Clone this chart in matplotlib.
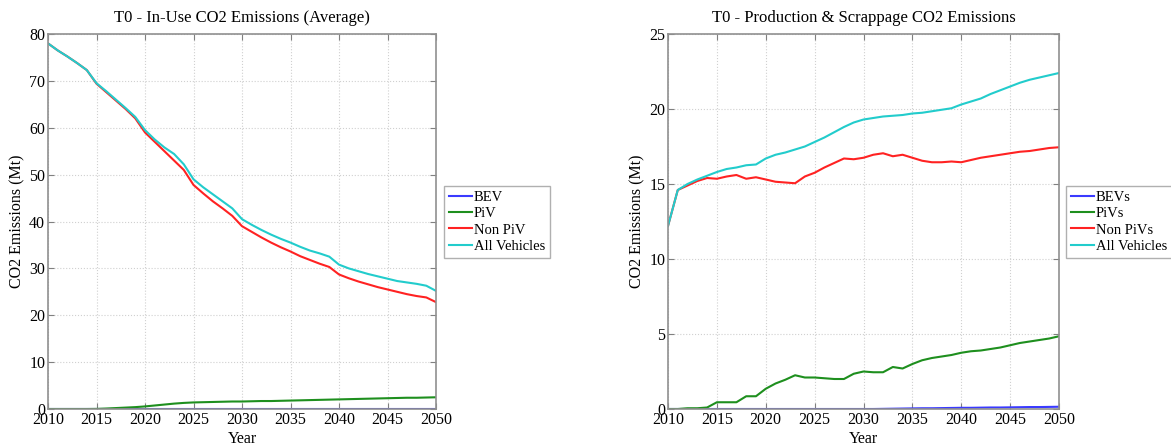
import numpy as np
import matplotlib
matplotlib.use("Agg")
import matplotlib.pyplot as plt

years = np.arange(2010, 2051)

# In-use emissions (Mt)
use_bev = [0.0] * 41
use_piv = [0.0, 0.0, 0.0, 0.0, 0.0, 0.02, 0.1, 0.2, 0.3, 0.4, 0.55,
           0.75, 0.95, 1.15, 1.3, 1.4, 1.45, 1.5, 1.55, 1.6, 1.6,
           1.65, 1.7, 1.7, 1.75, 1.8, 1.85, 1.9, 1.95, 2.0, 2.05,
           2.1, 2.15, 2.2, 2.25, 2.3, 2.35, 2.4, 2.4, 2.45, 2.5]
use_nonpiv = [78.0, 76.5, 75.2, 73.8, 72.3, 69.4, 67.6, 65.8, 64.0, 62.0, 59.0,
              57.0, 55.0, 53.0, 51.0, 47.8, 46.0, 44.3, 42.8, 41.2, 39.0,
              37.8, 36.6, 35.5, 34.5, 33.6, 32.6, 31.8, 31.0, 30.3, 28.7,
              27.9, 27.2, 26.6, 26.0, 25.5, 25.0, 24.5, 24.1, 23.8, 22.8]
use_all = [78.0, 76.5, 75.2, 73.8, 72.3, 69.5, 67.8, 66.0, 64.2, 62.3, 59.5,
           57.5, 55.8, 54.4, 52.2, 49.0, 47.3, 45.8, 44.3, 42.8, 40.5,
           39.3, 38.2, 37.2, 36.3, 35.5, 34.6, 33.8, 33.2, 32.5, 30.8,
           30.0, 29.4, 28.8, 28.3, 27.8, 27.3, 27.0, 26.7, 26.3, 25.2]

# Production & scrappage emissions (Mt)
prod_bev = [0.0] * 20 + [0.0, 0.0, 0.01, 0.02, 0.03, 0.04, 0.05, 0.05, 0.06, 0.07,
                         0.08, 0.08, 0.09, 0.1, 0.1, 0.11, 0.12, 0.13, 0.13, 0.14, 0.15]
prod_piv = [0.0, 0.0, 0.05, 0.05, 0.1, 0.45, 0.45, 0.45, 0.85, 0.85, 1.35,
            1.7, 1.95, 2.25, 2.1, 2.1, 2.05, 2.0, 2.0, 2.35, 2.5,
            2.45, 2.45, 2.8, 2.7, 3.0, 3.25, 3.4, 3.5, 3.6, 3.75,
            3.85, 3.9, 4.0, 4.1, 4.25, 4.4, 4.5, 4.6, 4.7, 4.85]
prod_nonpiv = [12.2, 14.6, 14.9, 15.2, 15.4, 15.35, 15.5, 15.6, 15.35, 15.45, 15.3,
               15.15, 15.1, 15.05, 15.5, 15.75, 16.1, 16.4, 16.7, 16.65, 16.75,
               16.95, 17.05, 16.85, 16.95, 16.75, 16.55, 16.45, 16.45, 16.5, 16.45,
               16.6, 16.75, 16.85, 16.95, 17.05, 17.15, 17.2, 17.3, 17.4, 17.45]
prod_all = [12.2, 14.6, 15.0, 15.3, 15.55, 15.8, 16.0, 16.1, 16.25, 16.3, 16.7,
            16.95, 17.1, 17.3, 17.5, 17.8, 18.1, 18.45, 18.8, 19.1, 19.3,
            19.4, 19.5, 19.55, 19.6, 19.7, 19.75, 19.85, 19.95, 20.05, 20.3,
            20.5, 20.7, 21.0, 21.25, 21.5, 21.75, 21.95, 22.1, 22.25, 22.4]

colors = ["#3a3aff", "#1e8f1e", "#ff2222", "#22cccc"]

plt.rcParams['font.family'] = ['Liberation Serif', 'DejaVu Serif']

fig = plt.figure(figsize=(11.71, 4.46), dpi=100)
W, H = 1171, 446


def style_axes(ax, ymax, ystep):
    ax.set_xlim(2010, 2050)
    ax.set_ylim(0, ymax)
    ax.set_xticks(np.arange(2010, 2051, 5))
    ax.set_yticks(np.arange(0, ymax + 0.1, ystep))
    ax.grid(True, linestyle=':', color='#d0d0d0', linewidth=0.8)
    ax.tick_params(direction='in', top=True, right=True, labelsize=11.5,
                   color='#808080', length=4, pad=2)
    for s in ax.spines.values():
        s.set_color('#909090')
        s.set_linewidth(1.2)
    ax.set_xlabel('Year', fontsize=11.5, labelpad=2)
    ax.set_ylabel('CO2 Emissions (Mt)', fontsize=11.5, labelpad=3)


def add_legend(ax, x0):
    # legend sits outside the axes, right of the plot (MATLAB 'EastOutside' look)
    ax.legend(loc='upper left', bbox_to_anchor=(x0 / W, 1 - 186 / H),
              bbox_transform=fig.transFigure, borderaxespad=0, fontsize=10.5,
              fancybox=False, edgecolor='#b0b0b0', framealpha=1,
              handlelength=1.6, handletextpad=0.1, labelspacing=0.2,
              borderpad=0.35)


ax1 = fig.add_axes([48 / W, 1 - 409 / H, 388 / W, 375 / H])
series1 = [("BEV", use_bev), ("PiV", use_piv), ("Non PiV", use_nonpiv), ("All Vehicles", use_all)]
for (lab, vals), c in zip(series1, colors):
    ax1.plot(years, vals, color=c, lw=1.5, label=lab)
style_axes(ax1, 80, 10)
ax1.set_title('T0 - In-Use CO2 Emissions (Average)', fontsize=12, pad=9)
add_legend(ax1, 444)

ax2 = fig.add_axes([668 / W, 1 - 409 / H, 391 / W, 375 / H])
series2 = [("BEVs", prod_bev), ("PiVs", prod_piv), ("Non PiVs", prod_nonpiv), ("All Vehicles", prod_all)]
for (lab, vals), c in zip(series2, colors):
    ax2.plot(years, vals, color=c, lw=1.5, label=lab)
style_axes(ax2, 25, 5)
ax2.set_title('T0 - Production & Scrappage CO2 Emissions', fontsize=12, pad=9)
add_legend(ax2, 1066)

fig.savefig('out.png', dpi=100)
